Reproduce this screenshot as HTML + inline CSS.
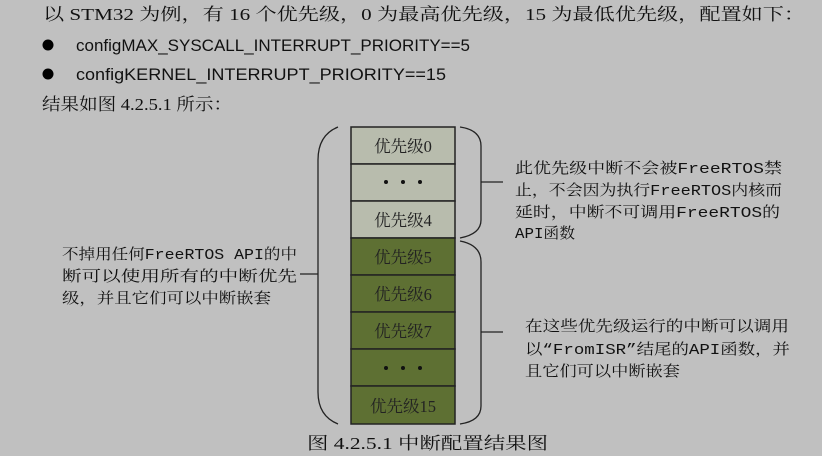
<!DOCTYPE html>
<html><head><meta charset="utf-8"><style>
html,body{margin:0;padding:0;background:#c0c0c0;}
svg{display:block}
.m{font-family:"Liberation Mono","Noto Serif CJK SC",monospace;font-size:15px;fill:#111}
.s{font-family:"Liberation Serif","Noto Serif CJK SC",serif;font-size:17px;fill:#111}
.c{font-family:"Liberation Sans","Noto Sans CJK SC",sans-serif;font-size:17px;fill:#111}
.cell{font-family:"Liberation Serif","Noto Serif CJK SC",serif;font-size:16.5px;fill:#222}
</style></head><body>
<svg width="822" height="456" viewBox="0 0 822 456" xmlns="http://www.w3.org/2000/svg">
<rect width="822" height="456" fill="#c0c0c0"/>
<text class="s" x="43" y="20" textLength="762" lengthAdjust="spacingAndGlyphs">以 STM32 为例，有 16 个优先级，0 为最高优先级，15 为最低优先级，配置如下：</text>
<circle cx="48" cy="45" r="5.5" fill="#000"/>
<text class="c" x="76" y="51" textLength="394" lengthAdjust="spacingAndGlyphs">configMAX_SYSCALL_INTERRUPT_PRIORITY==5</text>
<circle cx="48" cy="74" r="5.5" fill="#000"/>
<text class="c" x="76" y="80" textLength="370" lengthAdjust="spacingAndGlyphs">configKERNEL_INTERRUPT_PRIORITY==15</text>
<text class="s" x="42" y="110" textLength="190" lengthAdjust="spacingAndGlyphs">结果如图 4.2.5.1 所示：</text>

<g stroke="#222" stroke-width="1.5">
<rect x="351" y="127" width="104" height="37" fill="#b8bcad"/>
<rect x="351" y="164" width="104" height="37" fill="#b8bcad"/>
<rect x="351" y="201" width="104" height="37" fill="#b8bcad"/>
<rect x="351" y="238" width="104" height="37" fill="#5e7033"/>
<rect x="351" y="275" width="104" height="37" fill="#5e7033"/>
<rect x="351" y="312" width="104" height="37" fill="#5e7033"/>
<rect x="351" y="349" width="104" height="37" fill="#5e7033"/>
<rect x="351" y="386" width="104" height="38" fill="#5e7033"/>
</g>
<g class="cell" text-anchor="middle">
<text x="403" y="152">优先级0</text>
<text x="403" y="226">优先级4</text>
<text x="403" y="263">优先级5</text>
<text x="403" y="300">优先级6</text>
<text x="403" y="337">优先级7</text>
<text x="403" y="412">优先级15</text>
</g>
<g fill="#111">
<circle cx="386" cy="182" r="2"/><circle cx="403" cy="182" r="2"/><circle cx="420" cy="182" r="2"/>
<circle cx="386" cy="368" r="2"/><circle cx="403" cy="368" r="2"/><circle cx="420" cy="368" r="2"/>
</g>
<g fill="none" stroke="#222" stroke-width="1.3">
<path d="M338,127 Q318,135 318,160 L318,392 Q318,416 338,424"/>
<line x1="300" y1="274" x2="318" y2="274"/>
<path d="M460,127 Q481,130 481,146 L481,220 Q481,234 460,238"/>
<line x1="481" y1="182" x2="503" y2="182"/>
<path d="M460,241 Q481,245 481,262 L481,406 Q481,421 460,424"/>
<line x1="481" y1="332" x2="503" y2="332"/>
</g>
<g class="m" lengthAdjust="spacingAndGlyphs">
<text x="515" y="173" textLength="267" lengthAdjust="spacingAndGlyphs">此优先级中断不会被FreeRTOS禁</text>
<text x="515" y="195" textLength="267" lengthAdjust="spacingAndGlyphs">止，不会因为执行FreeRTOS内核而</text>
<text x="515" y="217" textLength="265" lengthAdjust="spacingAndGlyphs">延时，中断不可调用FreeRTOS的</text>
<text x="515" y="238" textLength="60" lengthAdjust="spacingAndGlyphs">API函数</text>
<text x="525" y="331" textLength="264" lengthAdjust="spacingAndGlyphs">在这些优先级运行的中断可以调用</text>
<text x="525" y="354" textLength="265" lengthAdjust="spacingAndGlyphs">以“FromISR”结尾的API函数，并</text>
<text x="525" y="376" textLength="155" lengthAdjust="spacingAndGlyphs">且它们可以中断嵌套</text>
<text x="62" y="259" textLength="235" lengthAdjust="spacingAndGlyphs">不掉用任何FreeRTOS API的中</text>
<text x="62" y="281" textLength="235" lengthAdjust="spacingAndGlyphs">断可以使用所有的中断优先</text>
<text x="62" y="303" textLength="209" lengthAdjust="spacingAndGlyphs">级，并且它们可以中断嵌套</text>
</g>
<text class="s" x="307" y="449" textLength="241" lengthAdjust="spacingAndGlyphs">图 4.2.5.1  中断配置结果图</text>
</svg>
</body></html>
